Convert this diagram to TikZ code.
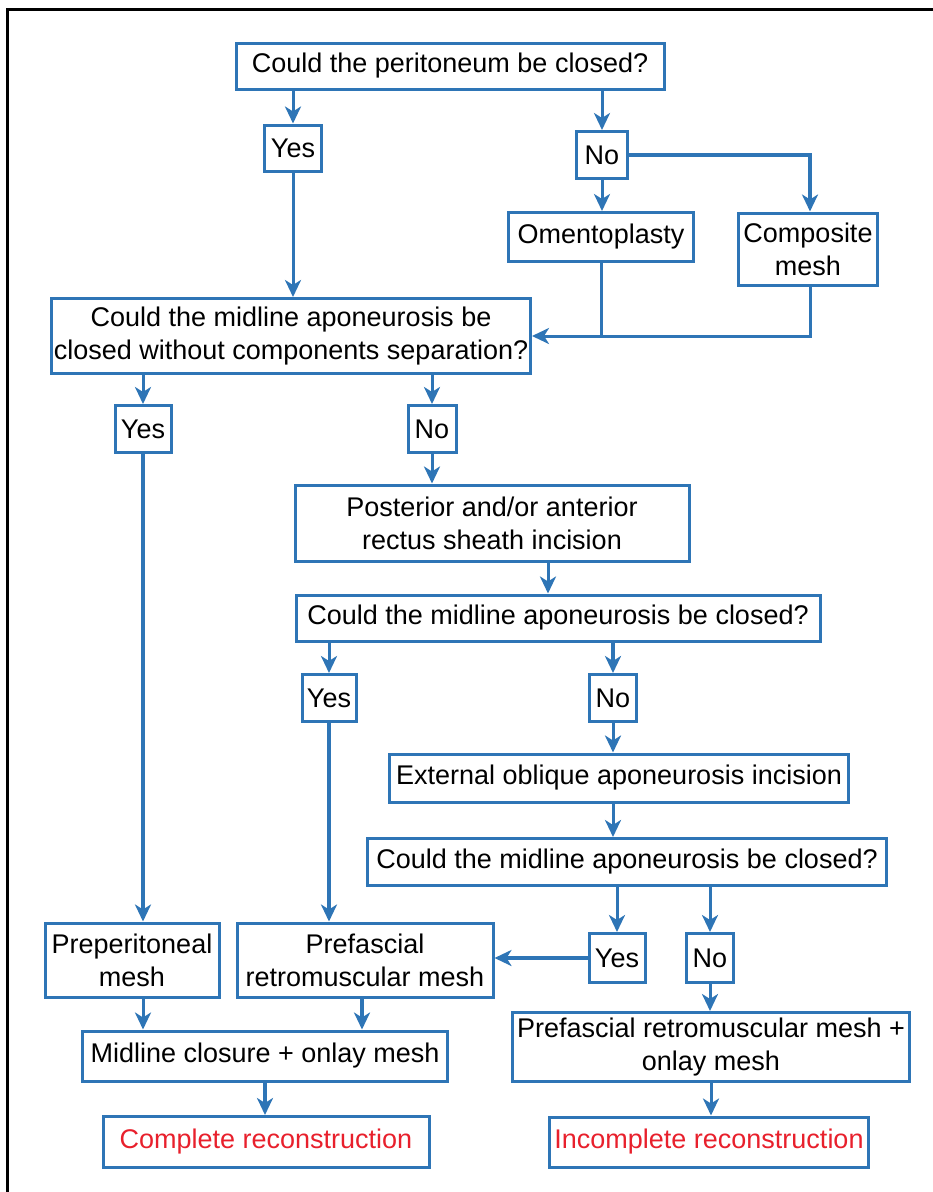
\documentclass[tikz,border=0pt]{standalone}
\usepackage{fontspec}
\setmainfont{Liberation Sans}
\usepackage{tikz}
\usetikzlibrary{arrows.meta,calc}
\definecolor{flowblue}{RGB}{46,117,182}
\definecolor{flowred}{RGB}{232,32,44}
\tikzset{
  box/.style={draw=flowblue, line width=3pt, align=center, inner sep=0pt,
    font=\fontsize{27}{33}\selectfont},
  arr/.style={draw=flowblue, line width=3pt, -{Stealth[length=17pt,width=16pt,inset=5pt]}},
  thickarr/.style={arr, line width=4.5pt},
  plain/.style={draw=flowblue, line width=3pt}
}

\begin{document}
\begin{tikzpicture}[x=1pt,y=-1pt]
    \useasboundingbox (0,0) rectangle (933,1192);
    \draw[line width=3pt] (7,1200) -- (7,9) -- (940,9);
    % peritoneum
    \node[box, minimum width=428, minimum height=46] (top) at (450,66) {Could the peritoneum be closed?};
    \node[box, minimum width=57, minimum height=46] (yesA) at (293,148) {Yes};
    \node[box, minimum width=51, minimum height=47] (noA) at (602,155) {No};
    \node[box, minimum width=185, minimum height=49] (oment) at (601,237) {Omentoplasty};
    \node[box, minimum width=139, minimum height=72] (compo) at (808,249) {Composite\\mesh};
    % midline without components separation
    \node[box, minimum width=479, minimum height=75] (qB) at (291,336) {Could the midline aponeurosis be\\closed without components separation?};
    \node[box, minimum width=56, minimum height=47] (yesB) at (143,429) {Yes};
    \node[box, minimum width=48, minimum height=47] (noB) at (432,429) {No};
    \node[box, minimum width=394, minimum height=76] (rect) at (492,523) {Posterior and/or anterior\\rectus sheath incision};
    \node[box, minimum width=524, minimum height=46] (qC) at (558,618) {Could the midline aponeurosis be closed?};
    \node[box, minimum width=54, minimum height=47] (yesC) at (329,698) {Yes};
    \node[box, minimum width=47, minimum height=47] (noC) at (613,698) {No};
    \node[box, minimum width=459, minimum height=48] (ext) at (619,778) {External oblique aponeurosis incision};
    \node[box, minimum width=519, minimum height=47] (qD) at (627,862) {Could the midline aponeurosis be closed?};
    \node[box, minimum width=56, minimum height=49] (yesD) at (617,958) {Yes};
    \node[box, minimum width=47, minimum height=49] (noD) at (710,958) {No};
    % meshes
    \node[box, minimum width=174, minimum height=74] (prep) at (132,960) {Preperitoneal\\mesh};
    \node[box, minimum width=256, minimum height=74] (pref) at (365,960) {Prefascial\\retromuscular mesh};
    \node[box, minimum width=365, minimum height=50] (midc) at (265,1056) {Midline closure + onlay mesh};
    \node[box, minimum width=397, minimum height=69] (prefon) at (711,1047) {Prefascial retromuscular mesh +\\onlay mesh};
    \node[box, minimum width=326, minimum height=51, text=flowred] (comp) at (266,1142) {Complete reconstruction};
    \node[box, minimum width=319, minimum height=50, text=flowred] (incomp) at (709,1142) {Incomplete reconstruction};

    \draw[arr] (top.south -| yesA) -- (yesA);
    \draw[arr] (top.south -| noA) -- (noA);
    \draw[arr] (noA) -- (noA |- oment.north);
    \draw[thickarr] (noA.east) -| ([xshift=2pt]compo.north);
    \draw[arr] (yesA) -- (yesA |- qB.north);
    \draw[plain] (oment.south) -- (oment.south |- qB.east);
    \draw[arr] ([xshift=2pt]compo.south) |- (qB.east);
    \draw[arr] (qB.south -| yesB) -- (yesB);
    \draw[arr] (qB.south -| noB) -- (noB);
    \draw[thickarr] (yesB) -- (yesB |- prep.north);
    \draw[arr] (noB) -- (noB |- rect.north);
    \draw[arr] ([xshift=56pt]rect.south) -- ([xshift=56pt]rect.south |- qC.north);
    \draw[arr] (qC.south -| yesC) -- (yesC);
    \draw[thickarr] (qC.south -| noC) -- (noC);
    \draw[thickarr] (yesC) -- (yesC |- pref.north);
    \draw[arr] (noC) -- (noC |- ext.north);
    \draw[arr] (ext.south -| noC) -- (qD.north -| noC);
    \draw[arr] (qD.south -| yesD) -- (yesD);
    \draw[arr] (qD.south -| noD) -- (noD);
    \draw[thickarr] (yesD) -- (yesD -| pref.east);
    \draw[arr] (noD) -- (noD |- prefon.north);
    \draw[arr] (prep.south -| yesB) -- (midc.north -| yesB);
    \draw[thickarr] ([xshift=-3pt]pref.south) -- ([xshift=-3pt]pref.south |- midc.north);
    \draw[thickarr] (midc) -- (midc |- comp.north);
    \draw[arr] (prefon) -- (prefon |- incomp.north);
\end{tikzpicture}
\end{document}
